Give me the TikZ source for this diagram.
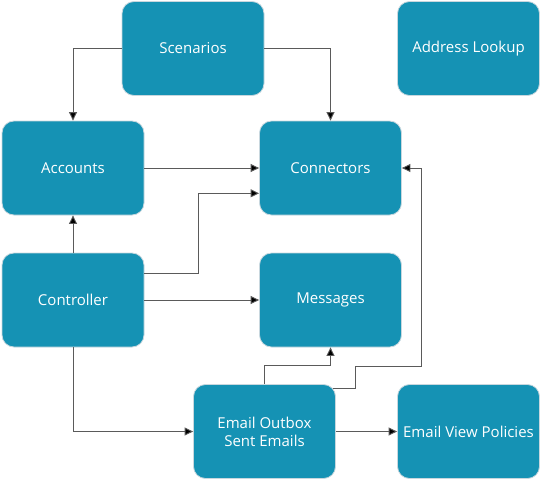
\documentclass[tikz,border=0pt]{standalone}
\usepackage{fontspec}
\setmainfont{Open Sans}
\usetikzlibrary{calc}
\usetikzlibrary{arrows.meta}

\definecolor{boxblue}{RGB}{21,146,180}
\definecolor{boxedge}{RGB}{200,215,222}
\definecolor{wire}{RGB}{90,90,90}

\begin{document}
\begin{tikzpicture} [x=1pt,y=-1pt,
  box/.style={draw=boxedge, fill=boxblue, line width=.8pt, rounded corners=12pt,
    minimum width=142pt, minimum height=94pt, inner sep=0pt, align=center,
    text=white, font=\fontsize{15}{18}\selectfont},
  link/.style={draw=wire, line width=.9pt, -{Triangle[length=8.5pt,width=8pt,fill=black]}}]
\useasboundingbox (0,0) rectangle (543,480);

\node[box] (scen)   at (193,48.5)   {Scenarios};
\node[box] (addr)   at (468.5,48.5) {Address Lookup};
\node[box] (acct)   at (73,168)     {Accounts};
\node[box] (conn)   at (330.5,168)  {Connectors};
\node[box] (ctrl)   at (73,300)     {Controller};
\node[box] (msg)    at (330.5,300)  {Messages};
\node[box] (outbox) at (264.5,431.5) {Email Outbox\\Sent Emails};
\node[box] (policy) at (468.5,431.5) {Email View Policies};

\draw[link] (scen.west) -| (acct.north);
\draw[link] (scen.east) -| (conn.north);
\draw[link] (acct.east) -- (conn.west);
\draw[link] (ctrl.north) -- (acct.south);
\draw[link] ($(ctrl.east)+(0,-26.7)$) -| ($(ctrl.east)+(54,-26.7)$) |- ($(conn.west)+(0,25.3)$);
\draw[link] (ctrl.east) -- (msg.west);
\draw[link] (ctrl.south) |- (outbox.west);
\draw[link] (outbox.north) -- ++(0,-18.3) -| (msg.south);
\draw[link] ($(outbox.north east)+(-3,4)$) -| ++(22.3,-22) -| ($(conn.east)+(20,0)$) -- (conn.east);
\draw[link] (outbox.east) -- (policy.west);
\end{tikzpicture}
\end{document}
